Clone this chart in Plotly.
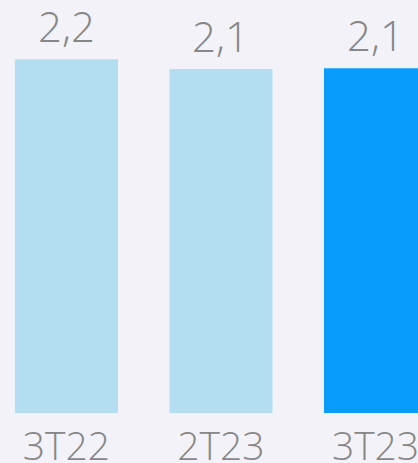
import plotly.graph_objects as go

categories = ["3T22", "2T23", "3T23"]
values = [2.18, 2.12, 2.125]
bar_colors = ["#b3ddf0", "#b3ddf0", "#089dfc"]

TEXT_COLOR = "#878787"
BG = "#f3f2f8"
FONT = "Open Sans"

fig = go.Figure()
fig.add_trace(go.Bar(
    x=categories,
    y=values,
    marker=dict(color=bar_colors, line=dict(width=0)),
    width=0.667,
    hoverinfo="skip",
))

for c, v in zip(categories, values):
    fig.add_annotation(
        x=c, y=v, xref="x", yref="y",
        text=f"{v:.1f}".replace(".", ","),
        showarrow=False, yanchor="bottom", yshift=3,
        font=dict(family=FONT, size=42, color=TEXT_COLOR, weight=300),
    )

fig.update_layout(
    width=418, height=463,
    margin=dict(l=0, r=0, t=0, b=50, autoexpand=False),
    paper_bgcolor=BG, plot_bgcolor=BG,
    showlegend=False,
    xaxis=dict(
        range=[-0.43, 2.275],
        automargin=False,
        showgrid=False, zeroline=False, showline=False,
        ticks="", ticklabelstandoff=7,
        tickfont=dict(family=FONT, size=39, color=TEXT_COLOR, weight=300),
    ),
    yaxis=dict(range=[0, 2.546], visible=False, automargin=False),
)

fig.write_html("out.html")
